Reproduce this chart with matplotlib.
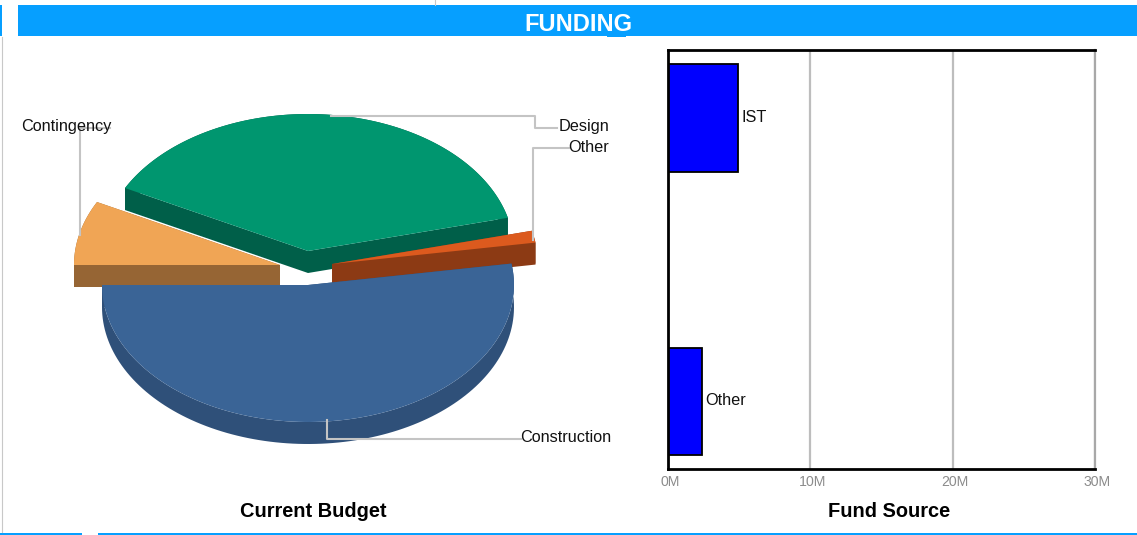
import matplotlib
matplotlib.use("Agg")
import matplotlib.pyplot as plt
from matplotlib.transforms import ScaledTranslation
import numpy as np

plt.rcParams["font.family"] = ["Liberation Sans", "DejaVu Sans"]

# pie data, share of current budget in %, clockwise from the left
slices = ["Contingency", "Design", "Other", "Construction"]
shares = [7.6, 38.5, 1.4, 52.5]

# bar data, in millions
sources = ["IST", "", "Other"]
amounts = [4.9, 0, 2.4]
xticks = [0, 10, 20, 30]
xticklabels = ["0M", "10M", "20M", "30M"]

top_colors = ["#F0A555", "#00966F", "#DC5A1E", "#3A6496"]
side_colors = ["#966534", "#005F49", "#8C3A14", "#2F5079"]
centers = [(280, 265), (308, 251), (332, 264), (308, 285)]
rx, ry, depth = 206, 137, 22

blue = "#069FFF"
grey = "#C4C4C4"

fig = plt.figure(figsize=(11.37, 5.35), dpi=100)

# overlay in pixel coordinates for the banner and the pie
ax = fig.add_axes([0, 0, 1, 1])
ax.set_xlim(0, 1137)
ax.set_ylim(535, 0)
ax.axis("off")

ax.fill_between([18, 1137], 5, 36, color=blue, lw=0)
ax.fill_between([0, 2], 5, 36, color=blue, lw=0)
ax.fill_between([607, 626], 36, 37, color=blue, lw=0)
ax.fill_between([0, 82], 533, 535, color=blue, lw=0)
ax.fill_between([98, 1137], 533, 535, color=blue, lw=0)
ax.plot([2, 2], [37, 532], color="#C8C8C8", lw=0.8)
ax.plot([434.5, 434.5], [0, 5], color="#C8C8C8", lw=0.8)
ax.text(578.5, 24.5, "FUNDING", color="white", fontsize=17, fontweight="bold",
        ha="center", va="center")

# angles run clockwise from 180 degrees
edges = 180 - np.concatenate([[0], np.cumsum(shares)]) * 3.6
for i in range(len(slices)):
    cx, cy = centers[i]
    t = np.radians(np.linspace(edges[i], edges[i + 1], 120))
    arc_x = cx + rx * np.cos(t)
    arc_y = cy - ry * np.sin(t)
    # extruded sides first: the two cut faces and the rim, then the top face
    for px, py in [([cx, arc_x[0]], [cy, arc_y[0]]),
                   ([cx, arc_x[-1]], [cy, arc_y[-1]]),
                   (arc_x, arc_y)]:
        px = np.asarray(px)
        py = np.asarray(py)
        ax.fill(np.concatenate([px, px[::-1]]),
                np.concatenate([py, py[::-1] + depth]),
                color=side_colors[i], lw=0)
    ax.fill(np.concatenate([[cx], arc_x]), np.concatenate([[cy], arc_y]),
            color=top_colors[i], lw=0)

# leader lines
ax.plot([80, 80, 110], [235, 128, 128], color=grey, lw=1.5)
ax.plot([331, 535, 535, 557], [116, 116, 128, 128], color=grey, lw=1.5)
ax.plot([533, 533, 569], [240, 148, 148], color=grey, lw=1.5)
ax.plot([327, 327, 521], [420, 439, 439], color=grey, lw=1.5)

ax.text(21, 127, "Contingency", fontsize=11.7, ha="left", va="center", color="#111111")
ax.text(609, 127, "Design", fontsize=11.7, ha="right", va="center", color="#111111")
ax.text(609, 147, "Other", fontsize=11.7, ha="right", va="center", color="#111111")
ax.text(611, 438, "Construction", fontsize=11.7, ha="right", va="center", color="#111111")
ax.text(313, 511.5, "Current Budget", fontsize=14.4, fontweight="bold", ha="center", va="center")
ax.text(889, 511.5, "Fund Source", fontsize=14.4, fontweight="bold", ha="center", va="center")

# fund source bars
ax2 = fig.add_axes([668 / 1137, (535 - 469) / 535, (1095 - 668) / 1137, 419 / 535])
ax2.patch.set_alpha(0)
ypos = np.arange(len(sources))
for y, name, val in zip(ypos, sources, amounts):
    if val > 0:
        ax2.barh(y, val, height=0.76, color="#0000FF", edgecolor="black", lw=1.3, zorder=3)
        ax2.text(val + 0.25, y - 0.005, name, fontsize=11.7, va="center", ha="left", color="#111111")
ax2.set_xlim(0, 30)
ax2.set_ylim(2.476, -0.48)
ax2.set_yticks([])
ax2.set_xticks(xticks)
ax2.set_xticklabels(xticklabels, fontsize=10.2, color="#8C8C8C")
ax2.tick_params(axis="x", length=0, pad=4)
shift = ScaledTranslation(2 / 100, 0, fig.dpi_scale_trans)
for lab in ax2.get_xticklabels():
    lab.set_transform(lab.get_transform() + shift)
ax2.grid(axis="x", color="#BDBDBD", lw=1.6, zorder=1)
ax2.set_axisbelow(True)
for side in ["top", "left", "bottom"]:
    ax2.spines[side].set_color("black")
    ax2.spines[side].set_linewidth(2)
    ax2.spines[side].set_zorder(5)
ax2.spines["right"].set_color("#A8A8A8")
ax2.spines["right"].set_linewidth(1.6)

fig.savefig("out.png", dpi=100)
